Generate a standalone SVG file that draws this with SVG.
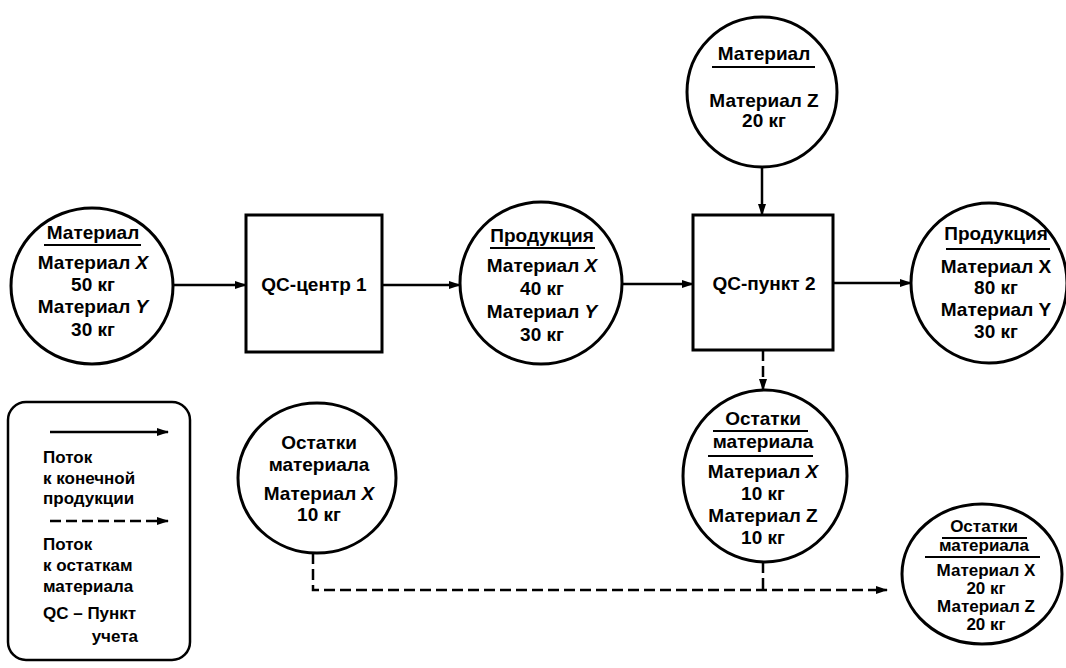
<svg xmlns="http://www.w3.org/2000/svg" width="1066" height="668" viewBox="0 0 1066 668">
<style>
.bg{fill:#fff}
.node{fill:#fff;stroke:#000;stroke-width:3}
.sep{stroke:#000;stroke-width:2}
.t{font-family:"Liberation Sans",Arial,sans-serif;font-weight:bold;font-size:19px;text-anchor:middle;fill:#000}
.s{font-size:17px}
.l{font-family:"Liberation Sans",Arial,sans-serif;font-weight:bold;font-size:17px;text-anchor:start;fill:#000}
.i{font-style:italic}
.c{fill:none;stroke:#000;stroke-width:2.5}
.d{stroke-dasharray:11 5}
</style>
<defs>
<marker id="ah" markerWidth="12" markerHeight="8" refX="11" refY="4" orient="auto" markerUnits="userSpaceOnUse">
<path d="M0,0 L12,4 L0,8 z" fill="#000"/>
</marker>
</defs>
<rect class="bg" x="0" y="0" width="1066" height="668"/>

<g id="connectors">
<path class="c" d="M173,285 H246" marker-end="url(#ah)"/>
<path class="c" d="M382,285 H460" marker-end="url(#ah)"/>
<path class="c" d="M622,284 H693" marker-end="url(#ah)"/>
<path class="c" d="M762,167 V215" marker-end="url(#ah)"/>
<path class="c" d="M833,283 H911" marker-end="url(#ah)"/>
<path class="c d" d="M763,350 V390" marker-end="url(#ah)"/>
<path class="c d" d="M313,553 V590 H887" marker-end="url(#ah)"/>
<path class="c d" d="M763,562 V590"/>
</g>

<g id="input-material">
<ellipse class="node" cx="92" cy="286" rx="81" ry="78"/>
<text class="t" x="93" y="239">Материал</text>
<line class="sep" x1="44" y1="245" x2="141" y2="245"/>
<text class="t" x="93" y="269">Материал <tspan class="i">X</tspan></text>
<text class="t" x="93" y="291">50 кг</text>
<text class="t" x="93" y="313">Материал <tspan class="i">Y</tspan></text>
<text class="t" x="93" y="336">30 кг</text>
</g>

<g id="qc1">
<rect class="node" x="246" y="215" width="136" height="137"/>
<text class="t" x="314" y="291">QC-центр 1</text>
</g>

<g id="product1">
<ellipse class="node" cx="541" cy="283" rx="81" ry="81"/>
<text class="t" x="542" y="242">Продукция</text>
<line class="sep" x1="490" y1="248" x2="595" y2="248"/>
<text class="t" x="542" y="272">Материал <tspan class="i">X</tspan></text>
<text class="t" x="542" y="295">40 кг</text>
<text class="t" x="542" y="318">Материал <tspan class="i">Y</tspan></text>
<text class="t" x="542" y="341">30 кг</text>
</g>

<g id="input-z">
<ellipse class="node" cx="762" cy="92" rx="75" ry="75"/>
<text class="t" x="764" y="60">Материал</text>
<line class="sep" x1="712" y1="67" x2="815" y2="67"/>
<text class="t" x="764" y="107">Материал Z</text>
<text class="t" x="764" y="127">20 кг</text>
</g>

<g id="qc2">
<rect class="node" x="693" y="215" width="140" height="135"/>
<text class="t" x="764" y="290">QC-пункт 2</text>
</g>

<g id="product2">
<ellipse class="node" cx="989" cy="283" rx="78" ry="80"/>
<text class="t" x="996" y="240">Продукция</text>
<line class="sep" x1="946" y1="249" x2="1050" y2="249"/>
<text class="t" x="996" y="273">Материал X</text>
<text class="t" x="996" y="294">80 кг</text>
<text class="t" x="996" y="316">Материал Y</text>
<text class="t" x="996" y="338">30 кг</text>
</g>

<g id="waste1">
<ellipse class="node" cx="317" cy="478" rx="79" ry="75"/>
<text class="t" x="319" y="449">Остатки</text>
<text class="t" x="319" y="471">материала</text>
<text class="t" x="319" y="500">Материал <tspan class="i">X</tspan></text>
<text class="t" x="319" y="521">10 кг</text>
</g>

<g id="waste2">
<ellipse class="node" cx="765" cy="476" rx="82" ry="86"/>
<text class="t" x="763" y="425">Остатки</text>
<line class="sep" x1="713" y1="431" x2="808" y2="431"/>
<text class="t" x="763" y="448">материала</text>
<line class="sep" x1="708" y1="456" x2="813" y2="456"/>
<text class="t" x="763" y="478">Материал <tspan class="i">X</tspan></text>
<text class="t" x="763" y="500">10 кг</text>
<text class="t" x="763" y="522">Материал Z</text>
<text class="t" x="763" y="544">10 кг</text>
</g>

<g id="waste-total">
<ellipse class="node" cx="982" cy="574" rx="80" ry="70"/>
<text class="t s" x="984" y="532">Остатки</text>
<line class="sep" x1="942" y1="538" x2="1027" y2="538"/>
<text class="t s" x="984" y="551">материала</text>
<line class="sep" x1="925" y1="557" x2="1040" y2="557"/>
<text class="t s" x="986" y="576">Материал X</text>
<text class="t s" x="986" y="594">20 кг</text>
<text class="t s" x="986" y="612">Материал Z</text>
<text class="t s" x="986" y="630">20 кг</text>
</g>

<g id="legend">
<rect x="8" y="402" width="182" height="258" rx="18" fill="#fff" stroke="#000" stroke-width="2.5"/>
<path class="c" d="M50,432 H168" marker-end="url(#ah)"/>
<text class="l" x="43" y="463">Поток</text>
<text class="l" x="43" y="484">к конечной</text>
<text class="l" x="43" y="504">продукции</text>
<path class="c d" d="M50,521 H168" marker-end="url(#ah)"/>
<text class="l" x="43" y="550">Поток</text>
<text class="l" x="43" y="571">к остаткам</text>
<text class="l" x="43" y="592">материала</text>
<text class="l" x="43" y="619">QC – Пункт</text>
<text class="l" x="138" y="642" text-anchor="end" style="text-anchor:end">учета</text>
</g>
</svg>
